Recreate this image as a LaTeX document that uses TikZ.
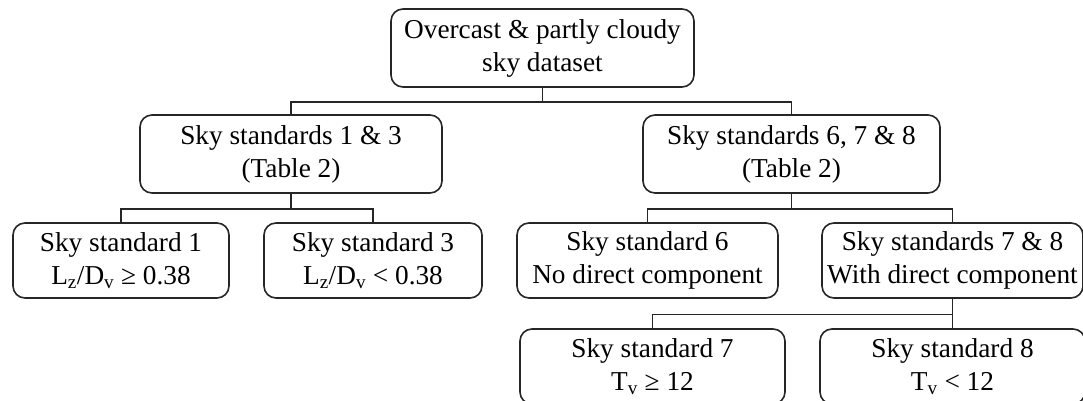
\documentclass[tikz,border=0pt]{standalone}
\usepackage{fontspec}
\setmainfont{Liberation Serif}
\usepackage{tikz}
\tikzstyle{caja} = [draw=black!85, rounded corners=12pt, line width=1.6pt, align=center, inner sep=0pt, font=\fontsize{27.3}{33}\selectfont]
\tikzstyle{rama} = [draw=black!85, line width=1.6pt]

\begin{document}
\begin{tikzpicture}[x=1pt,y=1pt]
	\useasboundingbox (0,0) rectangle (1083,400);
	% niveles del arbol
	\node[caja, minimum width=303pt, minimum height=78pt] (dataset) at (542.5,352) {Overcast \& partly cloudy\\sky dataset};
	\node[caja, minimum width=302pt, minimum height=78pt] (std13) at (291,246) {Sky standards 1 \& 3\\(Table 2)};
	\node[caja, minimum width=297pt, minimum height=78pt] (std678) at (791.5,246) {Sky standards 6, 7 \& 8\\(Table 2)};
	\node[caja, minimum width=216pt, minimum height=75pt] (std1) at (121,139.5) {Sky standard 1\\L\textsubscript{z}/D\textsubscript{v} ≥ 0.38};
	\node[caja, minimum width=218pt, minimum height=75pt] (std3) at (373,139.5) {Sky standard 3\\L\textsubscript{z}/D\textsubscript{v} < 0.38};
	\node[caja, minimum width=261pt, minimum height=75pt] (std6) at (647.5,139.5) {Sky standard 6\\No direct component};
	\node[caja, minimum width=261pt, minimum height=75pt] (std78) at (952.5,139.5) {Sky standards 7 \& 8\\With direct component};
	\node[caja, minimum width=265pt, minimum height=75pt] (std7) at (652.5,33.5) {Sky standard 7\\T\textsubscript{v} ≥ 12};
	\node[caja, minimum width=265pt, minimum height=75pt] (std8) at (952.5,33.5) {Sky standard 8\\T\textsubscript{v} < 12};
	% conexiones
	\draw[rama] (dataset.south) -- ++(0,-14) -| (std13.north);
	\draw[rama] (dataset.south) -- ++(0,-14) -| (std678.north);
	\draw[rama] (std13.south) -- ++(0,-15) -| (std1.north);
	\draw[rama] (std13.south) -- ++(0,-15) -| (std3.north);
	\draw[rama] (std678.south) -- ++(0,-15) -| (std6.north);
	\draw[rama] (std678.south) -- ++(0,-15) -| (std78.north);
	\draw[rama] (std78.south) -- ++(0,-15.5) -| (std7.north);
	\draw[rama] (std78.south) -- (std8.north);
\end{tikzpicture}
\end{document}
